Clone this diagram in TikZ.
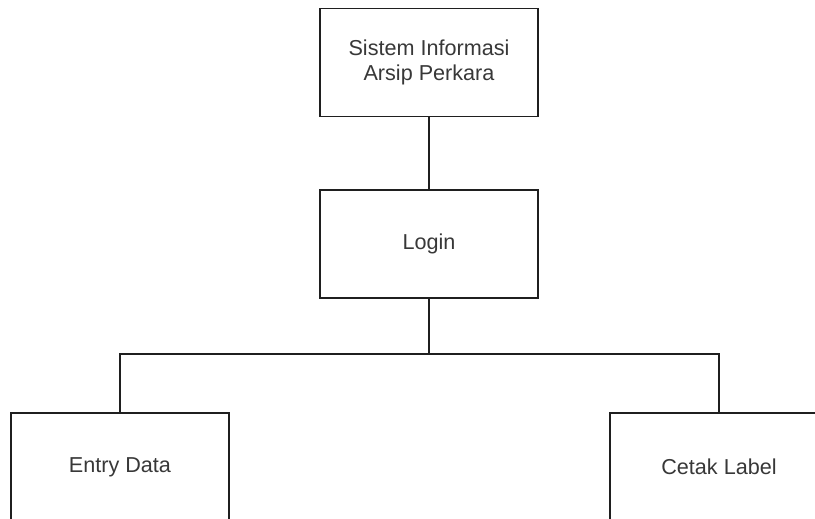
\documentclass[tikz,border=0pt]{standalone}
\usepackage{fontspec}
\setmainfont{Liberation Sans}
\begin{document}
\begin{tikzpicture}[x=1pt,y=-1pt,
  blok/.style={draw=black!88, line width=1.6pt, fill=white, minimum width=218pt,
    minimum height=108pt, inner sep=0pt, align=center, text=black!78,
    font=\fontsize{21.6}{25}\selectfont},
  garis/.style={draw=black!88, line width=1.6pt}]
\useasboundingbox (0,0) rectangle (815,519);
\clip (0,0) rectangle (815,519);
\node[blok] (sistem) at (429,62.5) {Sistem Informasi\\Arsip Perkara};
\node[blok] (login) at (429,244) {Login};
\node[blok] (entry) at (120,467) {Entry Data};
\node[blok] (cetak) at (719,467) {Cetak Label};
\coordinate (cabang) at (429,354);
\draw[garis] (sistem.south) -- (login.north);
\draw[garis] (login.south) -- (cabang);
\draw[garis] (entry.north) |- (cabang) -| (cetak.north);
\end{tikzpicture}
\end{document}
